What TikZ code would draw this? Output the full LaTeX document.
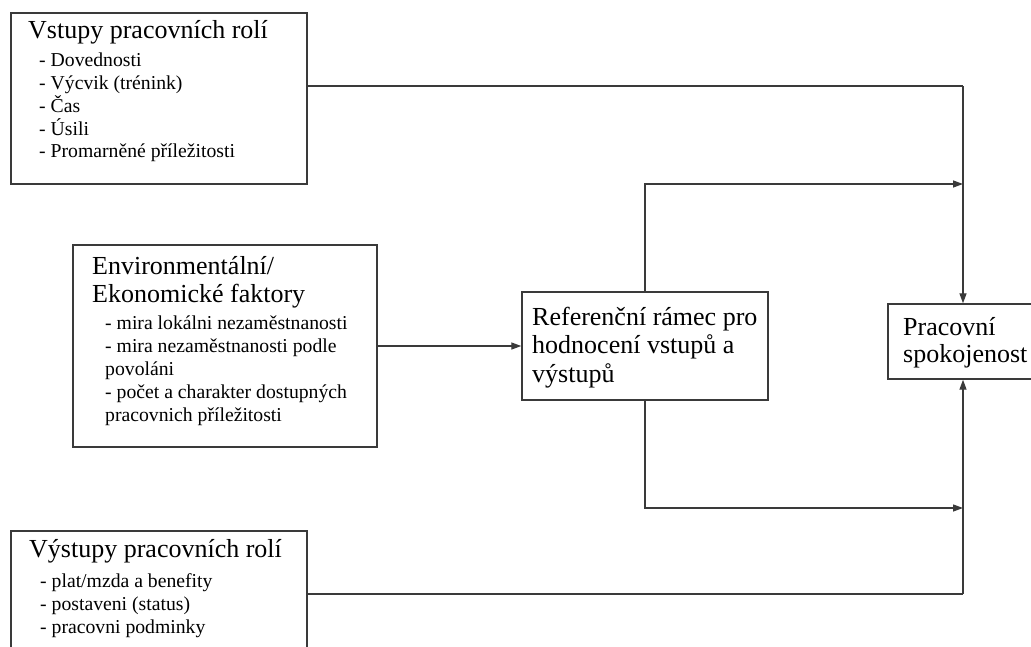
\documentclass[tikz,border=0pt]{standalone}
\usepackage{fontspec}
\setmainfont{Liberation Serif}
\usetikzlibrary{arrows.meta}
\definecolor{linec}{HTML}{3A3A3A}
\tikzset{
  box/.style={draw=linec, line width=1.4pt, fill=white, inner sep=0pt},
  conn/.style={draw=linec, line width=1.3pt},
  arr/.style={conn, -{Triangle[length=10pt,width=7pt]}},
  ttl/.style={anchor=base west, inner sep=0pt, font=\fontsize{26}{29}\selectfont},
  itm/.style={anchor=base west, inner sep=0pt, font=\fontsize{19.7}{23}\selectfont},
}
\begin{document}
\begin{tikzpicture}[x=1pt, y=-1pt]
\useasboundingbox (0,0) rectangle (1031,646);
\clip (0,0) rectangle (1031,646);
\fill[white] (0,0) rectangle (1031,646);

% boxes
\node[box, minimum width=296pt, minimum height=171pt] (in) at (159,98.5) {};
\node[box, minimum width=304pt, minimum height=202pt] (env) at (225,346) {};
\node[box, minimum width=296pt, minimum height=140pt] (out) at (159,601) {};
\node[box, minimum width=246pt, minimum height=108pt] (ref) at (645,346) {};
\node[box, minimum width=150pt, minimum height=75pt] (sat) at (963,341.5) {};

% junction coordinates
\coordinate (j1) at (963,86);
\coordinate (j2) at (963,184);
\coordinate (j3) at (963,508);
\coordinate (j4) at (963,594);

% connectors
\draw[conn] (in.east |- j1) -- (j1);
\draw[arr] (j1) -- (sat.north);
\draw[arr] (ref.north) |- (j2);
\draw[arr] (ref.south) |- (j3);
\draw[conn] (out.east |- j4) -- (j4);
\draw[arr] (j4) -- (sat.south);
\draw[arr] (env.east) -- (ref.west);

% texts: inputs
\node[ttl] (t1) at (28,38) {Vstupy pracovních rolí};
\node[itm] (t1a) at (39,66) {- Dovednosti};
\node[itm] (t1b) at (39,89) {- Výcvik (trénink)};
\node[itm] (t1c) at (39,112) {- Čas};
\node[itm] (t1d) at (39,135) {- Úsili};
\node[itm] (t1e) at (39,157.5) {- Promarněné příležitosti};

% texts: environment
\node[ttl] (t2) at (92,274) {Environmentální/};
\node[ttl] (t2b) at (92,302) {Ekonomické faktory};
\node[itm] (t2c) at (105,329) {- mira lokálni nezaměstnanosti};
\node[itm] (t2d) at (105,352) {- mira nezaměstnanosti podle};
\node[itm] (t2e) at (105,375) {povoláni};
\node[itm] (t2f) at (105,398) {- počet a charakter dostupných};
\node[itm] (t2g) at (105,421) {pracovnich příležitosti};

% texts: outputs
\node[ttl] (t3) at (29,557) {Výstupy pracovních rolí};
\node[itm] (t3a) at (40,587) {- plat/mzda a benefity};
\node[itm] (t3b) at (40,610.5) {- postaveni (status)};
\node[itm] (t3c) at (40,633.5) {- pracovni podminky};

% texts: reference frame
\node[ttl] (t4) at (532,325) {Referenční rámec pro};
\node[ttl] (t4b) at (532,353.5) {hodnocení vstupů a};
\node[ttl] (t4c) at (532,382) {výstupů};

% texts: satisfaction
\node[ttl] (t5) at (903,335) {Pracovní};
\node[ttl] (t5b) at (903,362) {spokojenost};
\end{tikzpicture}
\end{document}
